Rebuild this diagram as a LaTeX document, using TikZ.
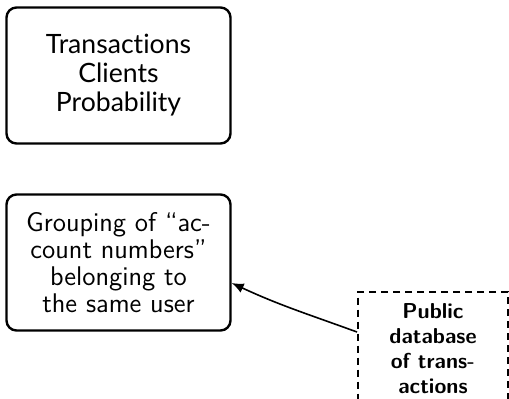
\documentclass[tikz,border=0pt]{standalone}
\usepackage{fontspec}
\newfontfamily\latofont[Ligatures=NoCommon]{Lato}
\usetikzlibrary{arrows.meta}
\begin{document}
\begin{tikzpicture}[x=0.5pt,y=-0.5pt,
  roundbox/.style={draw, line width=1.2pt, rounded corners=5pt, align=center,
    minimum width=112pt, minimum height=68pt, inner sep=0pt},
  dashbox/.style={draw, line width=1pt, dash pattern=on 3.5pt off 2.5pt, align=center,
    minimum width=75pt, minimum height=57pt, inner sep=0pt},
  link/.style={line width=0.8pt, -{Latex[length=6pt,width=5pt]}}]
\useasboundingbox (0,0) rectangle (509,398);
\node[roundbox, font=\latofont\fontsize{13.3}{14.5}\selectfont] (terms) at (118.5,75.5)
  {Transactions\\Clients\\Probability};
\node[roundbox, font=\sffamily\fontsize{13.5}{13.4}\selectfont] (group) at (118.5,262.5)
  {Grouping of ``ac-\\count numbers''\\belonging to\\the same user};
\node[dashbox, font=\sffamily\bfseries\fontsize{10.8}{12.5}\selectfont] (pub) at (433,348.5)
  {Public\\database\\of trans-\\actions};
\draw[link] (pub.west |- 0,332) to[out=160,in=-25] (group.east |- 0,283);
\end{tikzpicture}
\end{document}
